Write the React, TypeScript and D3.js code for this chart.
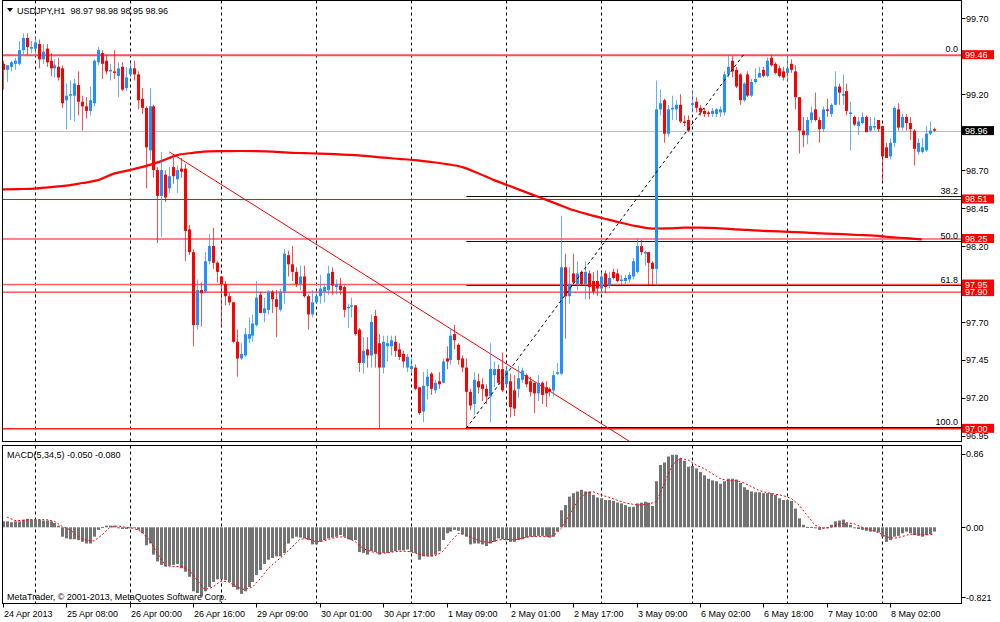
import React from "react";
import * as d3 from "d3";

// USDJPY H1 bars: [open, high, low, close]
const candles: number[][] = [
  [99.40, 99.42, 99.23, 99.36], [99.36, 99.39, 99.28, 99.39], [99.38, 99.42, 99.35, 99.41], [99.40, 99.44, 99.36, 99.42],
  [99.40, 99.55, 99.39, 99.49], [99.49, 99.60, 99.46, 99.57], [99.57, 99.60, 99.46, 99.51], [99.50, 99.55, 99.47, 99.51],
  [99.50, 99.58, 99.45, 99.54], [99.53, 99.56, 99.37, 99.43], [99.43, 99.53, 99.40, 99.48], [99.50, 99.53, 99.38, 99.41],
  [99.42, 99.47, 99.32, 99.37], [99.37, 99.43, 99.31, 99.39], [99.38, 99.44, 99.29, 99.31], [99.37, 99.39, 99.11, 99.14],
  [99.16, 99.27, 98.97, 99.19], [99.19, 99.29, 99.03, 99.20], [99.19, 99.30, 99.02, 99.27], [99.26, 99.35, 99.06, 99.15],
  [99.15, 99.19, 98.96, 99.12], [99.12, 99.18, 99.04, 99.09], [99.09, 99.25, 99.06, 99.16], [99.14, 99.43, 99.12, 99.42],
  [99.41, 99.51, 99.39, 99.49], [99.47, 99.49, 99.30, 99.40], [99.42, 99.46, 99.33, 99.35], [99.35, 99.40, 99.29, 99.36],
  [99.35, 99.49, 99.30, 99.34], [99.32, 99.41, 99.18, 99.37], [99.38, 99.41, 99.22, 99.23], [99.24, 99.38, 99.22, 99.31],
  [99.33, 99.41, 99.31, 99.37], [99.37, 99.42, 99.29, 99.33], [99.33, 99.35, 99.10, 99.16], [99.17, 99.24, 99.07, 99.11],
  [99.11, 99.12, 98.58, 98.85], [98.83, 99.24, 98.77, 99.12], [99.12, 99.13, 98.65, 98.70], [98.70, 98.72, 98.22, 98.53],
  [98.53, 98.82, 98.26, 98.70], [98.67, 98.70, 98.49, 98.52], [98.58, 98.72, 98.55, 98.66], [98.72, 98.78, 98.61, 98.66],
  [98.64, 98.73, 98.55, 98.70], [98.71, 98.78, 98.65, 98.69], [98.71, 98.74, 98.10, 98.30], [98.31, 98.34, 98.14, 98.16],
  [98.16, 98.18, 97.54, 97.68], [97.68, 97.98, 97.65, 97.91], [97.91, 97.96, 97.67, 97.89], [97.90, 98.16, 97.89, 98.10],
  [98.10, 98.28, 98.08, 98.20], [98.20, 98.32, 98.05, 98.09], [98.09, 98.10, 97.96, 98.03], [98.00, 98.00, 97.67, 97.95],
  [97.95, 97.97, 97.81, 97.87], [97.87, 97.89, 97.81, 97.83], [97.83, 97.83, 97.56, 97.57], [97.57, 97.65, 97.34, 97.46],
  [97.46, 97.56, 97.45, 97.49], [97.48, 97.66, 97.47, 97.62], [97.59, 97.73, 97.56, 97.62], [97.61, 97.75, 97.57, 97.69],
  [97.68, 97.97, 97.67, 97.86], [97.88, 97.90, 97.76, 97.76], [97.76, 97.86, 97.70, 97.79], [97.78, 97.91, 97.75, 97.90],
  [97.90, 97.91, 97.76, 97.85], [97.85, 97.91, 97.60, 97.80], [97.78, 97.92, 97.77, 97.90], [97.90, 98.18, 97.82, 98.15],
  [98.14, 98.17, 98.00, 98.08], [98.08, 98.20, 97.97, 98.03], [98.03, 98.06, 97.93, 97.95], [97.95, 98.07, 97.91, 98.00],
  [98.00, 98.07, 97.86, 97.87], [97.87, 97.88, 97.65, 97.75], [97.75, 97.91, 97.73, 97.83], [97.83, 97.91, 97.82, 97.87],
  [97.87, 98.01, 97.82, 97.92], [97.90, 97.95, 97.83, 97.93], [97.91, 98.07, 97.88, 98.02], [98.03, 98.06, 97.88, 97.94],
  [97.93, 97.98, 97.88, 97.95], [97.94, 97.99, 97.88, 97.91], [97.93, 97.94, 97.73, 97.78], [97.79, 97.82, 97.66, 97.80],
  [97.80, 97.86, 97.73, 97.81], [97.81, 97.81, 97.61, 97.62], [97.65, 97.66, 97.37, 97.43], [97.43, 97.60, 97.36, 97.51],
  [97.52, 97.60, 97.40, 97.48], [97.48, 97.75, 97.40, 97.70], [97.74, 97.78, 97.40, 97.49], [97.56, 97.62, 97.00, 97.40],
  [97.40, 97.61, 97.36, 97.57], [97.54, 97.61, 97.44, 97.56], [97.54, 97.61, 97.48, 97.58], [97.57, 97.61, 97.47, 97.51],
  [97.52, 97.56, 97.45, 97.47], [97.49, 97.51, 97.40, 97.44], [97.40, 97.49, 97.37, 97.47], [97.39, 97.46, 97.36, 97.41],
  [97.40, 97.42, 97.25, 97.26], [97.27, 97.27, 97.09, 97.10], [97.11, 97.37, 97.04, 97.28], [97.28, 97.39, 97.19, 97.34],
  [97.36, 97.37, 97.22, 97.26], [97.25, 97.32, 97.23, 97.30], [97.31, 97.37, 97.26, 97.29], [97.30, 97.46, 97.30, 97.44],
  [97.46, 97.54, 97.39, 97.44], [97.45, 97.66, 97.42, 97.61], [97.62, 97.68, 97.52, 97.58], [97.55, 97.56, 97.42, 97.45],
  [97.46, 97.48, 97.37, 97.40], [97.40, 97.46, 97.00, 97.24], [97.24, 97.26, 97.12, 97.15], [97.16, 97.37, 97.09, 97.32],
  [97.31, 97.36, 97.23, 97.27], [97.29, 97.33, 97.18, 97.26], [97.26, 97.29, 97.16, 97.21], [97.21, 97.56, 97.04, 97.39],
  [97.35, 97.44, 97.27, 97.39], [97.39, 97.42, 97.29, 97.30], [97.39, 97.50, 97.24, 97.25], [97.29, 97.41, 97.27, 97.38],
  [97.31, 97.36, 97.07, 97.14], [97.25, 97.35, 97.08, 97.13], [97.26, 97.41, 97.20, 97.33], [97.32, 97.40, 97.30, 97.38],
  [97.35, 97.36, 97.27, 97.29], [97.31, 97.34, 97.21, 97.24], [97.30, 97.30, 97.10, 97.23], [97.23, 97.35, 97.18, 97.30],
  [97.30, 97.31, 97.16, 97.22], [97.27, 97.31, 97.14, 97.23], [97.26, 97.27, 97.21, 97.24], [97.25, 97.38, 97.21, 97.35],
  [97.36, 97.43, 97.35, 97.37], [97.36, 98.40, 97.35, 98.06], [98.06, 98.15, 97.59, 97.87], [97.87, 98.06, 97.82, 97.95],
  [98.02, 98.15, 97.95, 97.96], [97.95, 98.10, 97.91, 98.02], [98.03, 98.04, 97.94, 97.95], [97.95, 98.10, 97.85, 98.03],
  [98.02, 98.04, 97.85, 97.93], [97.97, 98.03, 97.88, 97.90], [97.97, 98.04, 97.87, 97.92], [97.92, 98.03, 97.88, 98.00],
  [98.02, 98.04, 97.89, 97.93], [97.94, 98.03, 97.92, 97.99], [98.03, 98.05, 97.98, 97.99], [98.02, 98.05, 97.96, 97.97],
  [97.97, 98.01, 97.95, 97.98], [97.97, 98.01, 97.95, 97.99], [97.98, 98.03, 97.96, 98.01], [98.00, 98.12, 97.98, 98.10],
  [98.03, 98.25, 98.02, 98.20], [98.20, 98.24, 98.14, 98.16], [98.15, 98.17, 98.07, 98.16], [98.16, 98.16, 97.94, 98.09],
  [98.09, 98.10, 97.94, 98.05], [98.05, 99.29, 97.94, 99.10], [99.10, 99.23, 99.06, 99.14], [99.16, 99.17, 98.88, 98.94],
  [98.94, 99.13, 98.92, 99.10], [99.10, 99.19, 99.03, 99.11], [99.10, 99.16, 99.03, 99.13], [99.13, 99.20, 99.01, 99.02],
  [99.02, 99.06, 98.99, 99.01], [99.03, 99.06, 98.95, 98.96], [99.13, 99.22, 99.08, 99.14], [99.15, 99.18, 99.08, 99.11],
  [99.11, 99.13, 99.06, 99.08], [99.09, 99.11, 99.05, 99.07], [99.08, 99.09, 99.05, 99.07], [99.07, 99.11, 99.05, 99.09],
  [99.07, 99.11, 99.05, 99.10], [99.08, 99.12, 99.05, 99.10], [99.08, 99.35, 99.06, 99.33], [99.33, 99.46, 99.31, 99.38],
  [99.42, 99.45, 99.31, 99.35], [99.36, 99.38, 99.24, 99.25], [99.33, 99.34, 99.13, 99.16], [99.16, 99.28, 99.15, 99.27],
  [99.33, 99.35, 99.18, 99.19], [99.19, 99.30, 99.18, 99.28], [99.28, 99.37, 99.27, 99.30], [99.31, 99.38, 99.31, 99.34],
  [99.36, 99.38, 99.31, 99.32], [99.32, 99.44, 99.31, 99.42], [99.44, 99.46, 99.38, 99.39], [99.40, 99.41, 99.33, 99.34],
  [99.37, 99.39, 99.31, 99.32], [99.35, 99.38, 99.29, 99.31], [99.34, 99.46, 99.28, 99.37], [99.40, 99.43, 99.34, 99.36],
  [99.35, 99.39, 99.10, 99.18], [99.18, 99.18, 98.81, 98.96], [98.96, 99.05, 98.85, 98.93], [98.93, 99.05, 98.87, 99.03],
  [99.03, 99.12, 99.01, 99.08], [99.10, 99.21, 99.02, 99.03], [99.03, 99.05, 98.88, 98.97], [98.97, 99.12, 98.95, 99.10],
  [99.10, 99.17, 99.05, 99.09], [99.07, 99.14, 99.05, 99.13], [99.13, 99.35, 99.13, 99.25], [99.25, 99.27, 99.13, 99.21],
  [99.19, 99.33, 99.13, 99.20], [99.22, 99.27, 99.06, 99.09], [99.07, 99.15, 98.83, 99.08], [99.05, 99.06, 98.99, 99.00],
  [98.99, 99.05, 98.93, 99.02], [99.01, 99.08, 99.00, 99.05], [99.05, 99.06, 98.95, 98.95], [98.96, 99.05, 98.95, 98.99],
  [98.98, 99.05, 98.96, 98.99], [99.03, 99.03, 98.95, 98.97], [98.99, 98.99, 98.63, 98.79], [98.85, 98.88, 98.78, 98.78],
  [98.79, 98.91, 98.77, 98.88], [98.88, 99.12, 98.85, 99.11], [99.10, 99.14, 98.96, 98.98], [98.98, 99.07, 98.96, 99.05],
  [99.05, 99.07, 98.96, 99.01], [99.01, 99.05, 98.90, 98.97], [98.96, 98.97, 98.73, 98.84], [98.82, 98.91, 98.80, 98.88],
  [98.82, 98.91, 98.81, 98.85], [98.83, 98.99, 98.82, 98.94], [98.94, 99.02, 98.93, 98.96], [98.97, 98.98, 98.95, 98.96],
];

// moving average, one value every 4 bars
const maValues = [
  98.573, 98.575, 98.578, 98.588, 98.598, 98.615, 98.634, 98.677, 98.70, 98.726,
  98.759, 98.799, 98.814, 98.824, 98.825, 98.826, 98.825, 98.822, 98.815, 98.812,
  98.809, 98.805, 98.80, 98.792, 98.782, 98.774, 98.766, 98.754, 98.74, 98.72,
  98.68, 98.634, 98.595, 98.555, 98.516, 98.476, 98.437, 98.407, 98.38, 98.354,
  98.331, 98.315, 98.316, 98.321, 98.321, 98.318, 98.311, 98.306, 98.30, 98.297,
  98.292, 98.287, 98.282, 98.278, 98.273, 98.269, 98.259, 98.252, 98.244,
];

// MACD(5,34,5) histogram, one per bar
const macdHist = [
  0.07, 0.07, 0.06, 0.07, 0.07, 0.09, 0.10, 0.09, 0.09, 0.09,
  0.08, 0.08, 0.07, 0.05, 0.02, -0.11, -0.13, -0.14, -0.14, -0.15,
  -0.17, -0.19, -0.19, -0.11, -0.03, 0.005, 0.02, 0.02, 0.02, -0.005,
  -0.02, -0.02, -0.005, -0.01, -0.03, -0.07, -0.21, -0.19, -0.32, -0.40,
  -0.44, -0.46, -0.45, -0.44, -0.43, -0.48, -0.52, -0.58, -0.75, -0.77,
  -0.81, -0.75, -0.70, -0.64, -0.61, -0.61, -0.62, -0.64, -0.70, -0.73,
  -0.78, -0.75, -0.70, -0.64, -0.56, -0.50, -0.43, -0.38, -0.36, -0.34,
  -0.34, -0.30, -0.19, -0.13, -0.11, -0.12, -0.13, -0.15, -0.20, -0.20,
  -0.17, -0.15, -0.13, -0.12, -0.11, -0.09, -0.11, -0.14, -0.15, -0.15,
  -0.29, -0.30, -0.32, -0.28, -0.29, -0.32, -0.30, -0.30, -0.29, -0.28,
  -0.27, -0.27, -0.26, -0.29, -0.30, -0.38, -0.34, -0.34, -0.34, -0.32,
  -0.28, -0.15, -0.07, -0.05, -0.03, -0.04, -0.08, -0.11, -0.20, -0.19,
  -0.19, -0.20, -0.22, -0.19, -0.17, -0.13, -0.14, -0.15, -0.17, -0.17,
  -0.15, -0.14, -0.12, -0.11, -0.11, -0.10, -0.10, -0.11, -0.12, -0.11,
  -0.05, 0.20, 0.26, 0.36, 0.40, 0.42, 0.44, 0.42, 0.42, 0.38,
  0.35, 0.34, 0.32, 0.32, 0.31, 0.29, 0.28, 0.26, 0.24, 0.24,
  0.28, 0.29, 0.30, 0.29, 0.25, 0.54, 0.73, 0.76, 0.83, 0.85,
  0.85, 0.81, 0.78, 0.71, 0.72, 0.69, 0.65, 0.61, 0.57, 0.55,
  0.54, 0.51, 0.54, 0.57, 0.57, 0.56, 0.52, 0.47, 0.44, 0.42,
  0.41, 0.41, 0.40, 0.40, 0.40, 0.38, 0.34, 0.32, 0.32, 0.31,
  0.22, 0.105, 0.03, 0.005, 0.005, -0.01, -0.03, -0.01, 0.0, 0.03,
  0.07, 0.08, 0.09, 0.05, 0.03, 0.0, -0.02, -0.03, -0.04, -0.05,
  -0.05, -0.06, -0.11, -0.17, -0.15, -0.11, -0.10, -0.07, -0.05, -0.07,
  -0.09, -0.10, -0.11, -0.09, -0.08, -0.05,
];

// MACD signal line, read at every odd bar (1, 3, 5 ... 235)
const macdSignal = [
  0.12, 0.08, 0.08, 0.09, 0.09, 0.09, 0.07, 0.01, -0.03, -0.11,
  -0.15, -0.16, -0.09, 0.0, 0.016, 0.0, -0.012, -0.05, -0.15, -0.305,
  -0.45, -0.46, -0.46, -0.50, -0.62, -0.73, -0.70, -0.63, -0.64, -0.70,
  -0.73, -0.70, -0.60, -0.48, -0.40, -0.32, -0.23, -0.14, -0.13, -0.17,
  -0.16, -0.13, -0.11, -0.12, -0.17, -0.25, -0.285, -0.305, -0.30, -0.285,
  -0.28, -0.285, -0.316, -0.336, -0.336, -0.285, -0.168, -0.07, -0.09, -0.137,
  -0.168, -0.176, -0.148, -0.14, -0.148, -0.129, -0.109, -0.109, -0.109, -0.10,
  -0.012, 0.144, 0.30, 0.398, 0.418, 0.379, 0.352, 0.32, 0.289, 0.27,
  0.262, 0.273, 0.30, 0.516, 0.73, 0.81, 0.79, 0.73, 0.69, 0.633,
  0.574, 0.547, 0.547, 0.523, 0.477, 0.43, 0.406, 0.39, 0.371, 0.34,
  0.262, 0.145, 0.027, -0.012, 0.0, 0.035, 0.055, 0.04, 0.0, -0.03,
  -0.06, -0.11, -0.129, -0.109, -0.082, -0.078, -0.09, -0.08,
];

// first bar of each day (vertical separators)
const dayStarts = [8, 32, 55, 79, 103, 127, 151, 174, 198, 222];

// time axis labels, one every 16 bars
const timeLabels = [
  "24 Apr 2013", "25 Apr 08:00", "26 Apr 00:00", "26 Apr 16:00", "29 Apr 09:00",
  "30 Apr 01:00", "30 Apr 17:00", "1 May 09:00", "2 May 01:00", "2 May 17:00",
  "3 May 09:00", "6 May 02:00", "6 May 18:00", "7 May 10:00", "8 May 02:00",
];

// price scale labels left visible next to the level boxes
const priceTicks = ["99.70", "99.20", "98.70", "98.45", "98.20", "97.70", "97.45", "97.20", "96.95"];
const macdTicks = ["0.86", "0.00", "-0.821"];

// horizontal lines drawn on the chart
const redLevels = [99.46, 98.51, 98.25, 97.90, 97.95, 97.00];
const bidPrice = 98.96;

// fibonacci retracement anchors and levels
const fiboLow = { bar: 117, price: 97.0 };
const fiboHigh = { bar: 187, price: 99.46 };
const fiboLevels = [0.0, 38.2, 50.0, 61.8, 100.0];

// descending trend line anchors
const trendA = { bar: 42, price: 98.82 };
const trendB = { bar: 153, price: 97.0 };

const FONT = "'Liberation Sans', Arial, sans-serif";

export default function App() {
  const W = 1000;
  const H = 622;
  const left = 2.5;
  const right = 961.5;
  const mainTop = 0.5;
  const mainBot = 441.5;
  const macdTop = 445.5;
  const macdBot = 603.5;

  const x = d3.scaleLinear().domain([0, 235]).range([3, 933.6]);
  const y = d3.scaleLinear().domain([96.91, 99.82]).range([442, 0]);
  const ym = d3.scaleLinear().domain([-0.887, 0.965]).range([603, 445]);
  const px = (i: number) => Math.round(x(i));

  const maLine = d3
    .line<number>()
    .x((d, i) => x(i * 4))
    .y((d) => y(d))
    .curve(d3.curveMonotoneX);

  const sigLine = d3
    .line<number>()
    .x((d, i) => x(i * 2 + 1))
    .y((d) => ym(d));

  // trend line extended down to the panel bottom
  const tx1 = x(trendA.bar), ty1 = y(trendA.price);
  const tx2 = x(trendB.bar), ty2 = y(trendB.price);
  const slope = (ty2 - ty1) / (tx2 - tx1);
  const txEnd = tx2 + (mainBot - ty2) / slope;

  const fiboRange = fiboHigh.price - fiboLow.price;
  const lastClose = candles[candles.length - 1][3];

  const redStyle: Record<string, { w: number; c: string }> = {
    "99.46": { w: 2, c: "#ff5050" },
    "98.51": { w: 1, c: "#ff0000" },
    "98.25": { w: 1.5, c: "#ff5c5c" },
    "97.95": { w: 1.5, c: "#ff5c5c" },
    "97.9": { w: 1, c: "#ff0000" },
    "97": { w: 1.5, c: "#ff2020" },
  };

  return (
    <svg
      width={W}
      height={H}
      style={{ position: "absolute", left: 0, top: 0, background: "#fff" }}
      fontFamily={FONT}
      fontSize={9}
    >
      <defs>
        <clipPath id="mainClip">
          <rect x={left + 0.5} y={mainTop + 0.5} width={right - left - 1} height={mainBot - mainTop - 1} />
        </clipPath>
        <clipPath id="macdClip">
          <rect x={left + 0.5} y={macdTop + 0.5} width={right - left - 1} height={macdBot - macdTop - 1} />
        </clipPath>
      </defs>
      <rect width={W} height={H} fill="#fff" />

      {/* main price panel */}
      <g clipPath="url(#mainClip)">
        {dayStarts.map((b) => (
          <line key={"g" + b} x1={px(b) + 0.5} x2={px(b) + 0.5} y1={mainTop} y2={mainBot}
            stroke="#000" strokeDasharray="3,3" />
        ))}
        <line x1={left} x2={right} y1={Math.round(y(bidPrice)) + 0.5} y2={Math.round(y(bidPrice)) + 0.5}
          stroke="#c0c0c0" />
        {fiboLevels.filter((lv) => lv > 0).map((lv) => {
          const p = fiboHigh.price - (lv / 100) * fiboRange;
          return (
            <line key={"f" + lv} x1={x(fiboLow.bar)} x2={right} y1={Math.round(y(p)) - 0.5}
              y2={Math.round(y(p)) - 0.5} stroke="#111" />
          );
        })}
        {redLevels.map((p) => {
          const s = redStyle[String(p)];
          return (
            <line key={"r" + p} x1={left} x2={right} y1={y(p) + 0.5} y2={y(p) + 0.5} stroke={s.c} strokeWidth={s.w} />
          );
        })}
        <path d={maLine(maValues) || ""} fill="none" stroke="#ff0000" strokeWidth={2.2} />
        <line x1={tx1} y1={ty1} x2={txEnd} y2={mainBot} stroke="#ff0000" strokeWidth={1} />

        {candles.map((d, i) => {
          const [o, h, l, c] = d;
          const up = c >= o;
          const col = up ? "#1e90ff" : "#ff0000";
          const cx = px(i);
          const top = y(Math.max(o, c));
          const bh = Math.max(1, Math.abs(y(o) - y(c)));
          return (
            <g key={"c" + i}>
              <line x1={cx + 0.5} x2={cx + 0.5} y1={y(h)} y2={y(l)} stroke={col} strokeOpacity={0.7} />
              <rect x={cx - 1} y={top} width={3} height={bh} fill={col} />
            </g>
          );
        })}

        <line x1={x(fiboLow.bar)} y1={y(fiboLow.price)} x2={x(fiboHigh.bar)} y2={y(fiboHigh.price)}
          stroke="#000" strokeDasharray="3,3" />
      </g>

      {fiboLevels.map((lv) => {
        const p = fiboHigh.price - (lv / 100) * fiboRange;
        return (
          <text key={"fl" + lv} x={958} y={y(p) - 3} textAnchor="end" fill="#000">
            {lv.toFixed(1)}
          </text>
        );
      })}

      {/* title */}
      <path d="M7,8 L13,8 L10,12 Z" fill="#000" />
      <text x={17} y={14} fill="#000">
        USDJPY,H1{"\u00a0\u00a0"}
        {candles[candles.length - 1].map((v) => v.toFixed(2)).join(" ")}
      </text>

      {/* MACD panel */}
      <g clipPath="url(#macdClip)">
        {dayStarts.map((b) => (
          <line key={"mg" + b} x1={px(b) + 0.5} x2={px(b) + 0.5} y1={macdTop} y2={macdBot}
            stroke="#000" strokeDasharray="3,3" />
        ))}
        {macdHist.map((v, i) => {
          const y0 = ym(0);
          const y1 = ym(v);
          return (
            <rect key={"h" + i} x={px(i) - 1} y={Math.min(y0, y1)} width={3}
              height={Math.max(1, Math.abs(y1 - y0))} fill="#737373" />
          );
        })}
        <path d={sigLine(macdSignal) || ""} fill="none" stroke="#ff0000" strokeDasharray="2,2" />
      </g>
      <text x={7} y={458} fill="#000">
        MACD(5,34,5) {macdHist[macdHist.length - 1].toFixed(3)} {macdSignal[macdSignal.length - 1].toFixed(3)}
      </text>
      <text x={7} y={600} fill="#000">MetaTrader, © 2001-2013, MetaQuotes Software Corp.</text>

      {/* panel frames */}
      <rect x={left} y={mainTop} width={right - left} height={mainBot - mainTop} fill="none" stroke="#000" />
      <rect x={left} y={macdTop} width={right - left} height={macdBot - macdTop} fill="none" stroke="#000" />

      {/* price axis */}
      {priceTicks.map((t) => (
        <g key={"pt" + t}>
          <line x1={right} x2={right + 4} y1={Math.round(y(+t)) + 0.5} y2={Math.round(y(+t)) + 0.5} stroke="#000" />
          <text x={966} y={y(+t) + 3.5} fill="#000">{t}</text>
        </g>
      ))}
      {redLevels.map((p) => (
        <g key={"rb" + p}>
          <rect x={962} y={y(p) - 4.5} width={32} height={9} fill="#ff0000" />
          <text x={965} y={y(p) + 3.5} fill="#fff">{p.toFixed(2)}</text>
        </g>
      ))}
      <rect x={962} y={y(lastClose) - 4.5} width={32} height={9} fill="#000" />
      <text x={965} y={y(lastClose) + 3.5} fill="#fff">{lastClose.toFixed(2)}</text>

      {/* MACD axis */}
      {macdTicks.map((t) => (
        <g key={"mt" + t}>
          <line x1={right} x2={right + 4} y1={Math.round(ym(+t)) + 0.5} y2={Math.round(ym(+t)) + 0.5} stroke="#000" />
          <text x={966} y={ym(+t) + 3.5} fill="#000">{t}</text>
        </g>
      ))}

      {/* time axis */}
      {timeLabels.map((t, k) => (
        <g key={"tl" + t}>
          <line x1={px(k * 16) + 0.5} x2={px(k * 16) + 0.5} y1={macdBot} y2={macdBot + 4} stroke="#000" />
          <text x={px(k * 16) + 1} y={617} fill="#000">{t}</text>
        </g>
      ))}
    </svg>
  );
}
